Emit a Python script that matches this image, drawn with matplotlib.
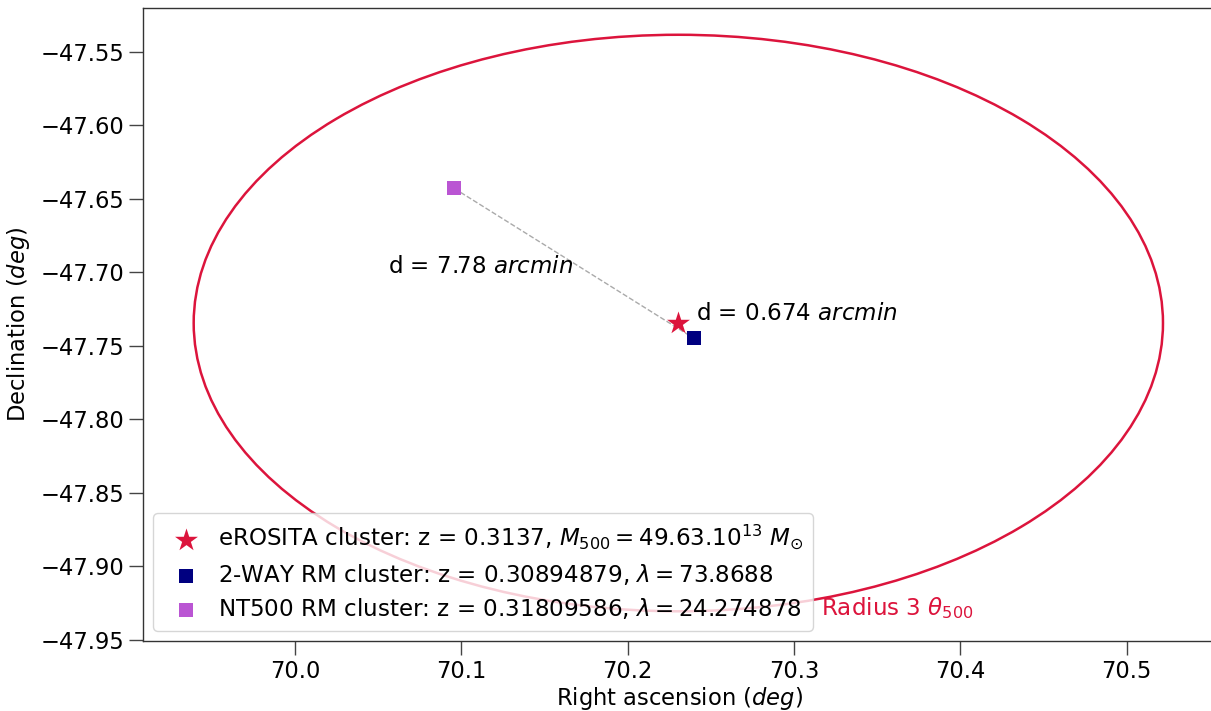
import numpy as np
import matplotlib
matplotlib.use("Agg")
import matplotlib.pyplot as plt
from matplotlib.patches import Ellipse

# Data
ero_ra, ero_dec = 70.2305, -47.7345
twoway_ra, twoway_dec = 70.2400, -47.7450
nt500_ra, nt500_dec = 70.0958, -47.6430
radius_deg = 0.1960  # 3 theta500 in degrees

ero_label = r"eROSITA cluster: z = 0.3137, $M_{500} = 49.63.10^{13}$ $M_{\odot}$"
twoway_label = r"2-WAY RM cluster: z = 0.30894879, $\lambda = 73.8688$"
nt500_label = r"NT500 RM cluster: z = 0.31809586, $\lambda = 24.274878$"
d1_text = r"d = 0.674 $arcmin$"
d2_text = r"d = 7.78 $arcmin$"
radius_text = r"Radius 3 $\theta_{500}$"

xticks = [70.0, 70.1, 70.2, 70.3, 70.4, 70.5]
yticks = [-47.95, -47.90, -47.85, -47.80, -47.75, -47.70, -47.65, -47.60, -47.55]

plt.rcParams['font.family'] = ['DejaVu Sans']
plt.rcParams['mathtext.fontset'] = 'dejavusans'

fig = plt.figure(figsize=(12.11, 7.11), dpi=100)
W, H = 1211, 711
left_px, right_px, top_px, bot_px = 143, 1215, 8, 641
ax = fig.add_axes([left_px / W, 1 - bot_px / H, (right_px - left_px) / W, (bot_px - top_px) / H])

crimson = '#DC143C'
fs = 16.6

# circle of 3 theta500 (ellipse in RA/Dec due to cos(dec))
ell = Ellipse((ero_ra, ero_dec), width=2 * radius_deg / np.cos(np.radians(ero_dec)),
              height=2 * radius_deg, fill=False, edgecolor=crimson, lw=1.8, zorder=2)
ax.add_patch(ell)

# dashed separation line
ax.plot([nt500_ra, twoway_ra], [nt500_dec, twoway_dec], ls='--', color='#aaaaaa', lw=1.0, zorder=3)

ax.scatter([ero_ra], [ero_dec], marker='*', s=300, color=crimson, label=ero_label, zorder=5, linewidths=0)
ax.scatter([twoway_ra], [twoway_dec], marker='s', s=110, color='#000080', label=twoway_label, zorder=4, linewidths=0)
ax.scatter([nt500_ra], [nt500_dec], marker='s', s=110, color='#BA55D3', label=nt500_label, zorder=4, linewidths=0)

ax.text(70.2410, -47.7280, d1_text, fontsize=fs, ha='left', va='center')
ax.text(70.0560, -47.6960, d2_text, fontsize=fs, ha='left', va='center')
ax.text(70.3165, -47.9285, radius_text, fontsize=fs, color=crimson, ha='left', va='center')

ax.set_xlim(69.9086, 70.5532)
ax.set_ylim(-47.9507, -47.5203)
ax.set_xticks(xticks)
ax.set_yticks(yticks)
ax.set_xticklabels([f"{v:.1f}" for v in xticks])
ax.set_yticklabels([f"\u2212{abs(v):.2f}" for v in yticks])
ax.tick_params(axis='both', labelsize=16.3, length=10, width=1, color='#444444', direction='out')
for s in ax.spines.values():
    s.set_color('#333333')
    s.set_linewidth(1)

ax.set_xlabel(r"Right ascension ($deg$)", fontsize=16.3, labelpad=1.5)
ax.set_ylabel(r"Declination ($deg$)", fontsize=16.3, labelpad=6)

leg = ax.legend(loc='lower left', fontsize=fs, frameon=True, handletextpad=0.4,
                borderaxespad=0.45, labelspacing=0.42, scatterpoints=1)
leg.get_frame().set_edgecolor('#cccccc')

fig.savefig('out.png', dpi=100)
